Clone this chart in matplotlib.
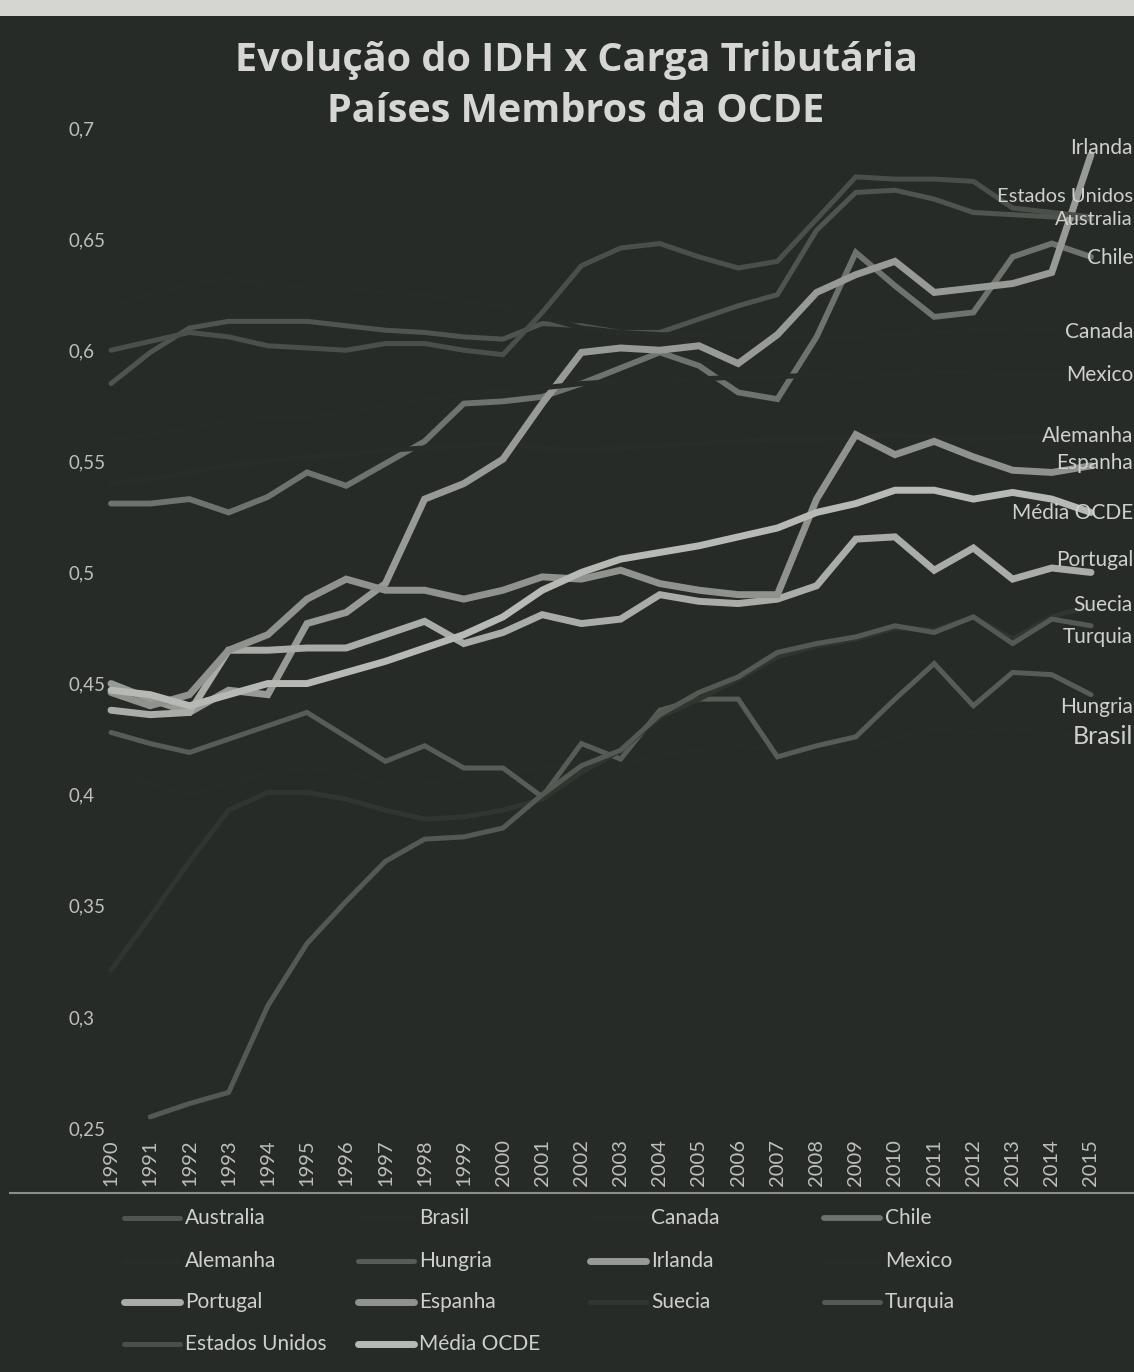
import numpy as np
import matplotlib.pyplot as plt
from matplotlib.lines import Line2D
from matplotlib.patches import Rectangle
from matplotlib.ticker import FuncFormatter
from matplotlib.transforms import blended_transform_factory

plt.rcParams['font.family'] = ['Lato', 'DejaVu Sans']

anos = list(range(1990, 2016))

australia = [0.585, 0.599, 0.610, 0.613, 0.613, 0.613, 0.611, 0.609, 0.608, 0.606, 0.605, 0.612, 0.611,
             0.608, 0.608, 0.614, 0.620, 0.625, 0.654, 0.671, 0.672, 0.668, 0.662, 0.661, 0.660, 0.659]
brasil = [0.410, 0.405, 0.400, 0.405, 0.410, 0.412, 0.410, 0.405, 0.405, 0.408, 0.410, 0.412, 0.415,
          0.413, 0.418, 0.420, 0.422, 0.420, 0.423, 0.420, 0.425, 0.430, 0.428, 0.430, 0.428, 0.426]
canada = [0.620, 0.625, 0.630, 0.632, 0.630, 0.628, 0.628, 0.626, 0.625, 0.622, 0.620, 0.615, 0.610,
          0.608, 0.607, 0.607, 0.606, 0.606, 0.605, 0.606, 0.607, 0.608, 0.609, 0.610, 0.609, 0.608]
chile = [0.531, 0.531, 0.533, 0.527, 0.534, 0.545, 0.539, 0.549, 0.559, 0.576, 0.577, 0.579, 0.585,
         0.592, 0.599, 0.593, 0.581, 0.578, 0.606, 0.644, 0.629, 0.615, 0.617, 0.642, 0.648, 0.642]
alemanha = [0.540, 0.542, 0.545, 0.548, 0.550, 0.552, 0.553, 0.555, 0.556, 0.557, 0.558, 0.556, 0.555,
            0.556, 0.557, 0.558, 0.559, 0.560, 0.560, 0.561, 0.562, 0.561, 0.560, 0.561, 0.561, 0.561]
hungria = [0.428, 0.423, 0.419, 0.425, 0.431, 0.437, 0.426, 0.415, 0.422, 0.412, 0.412, 0.399, 0.423,
           0.416, 0.438, 0.443, 0.443, 0.417, 0.422, 0.426, 0.443, 0.459, 0.440, 0.455, 0.454, 0.445]
irlanda = [0.450, 0.443, 0.437, 0.447, 0.445, 0.477, 0.482, 0.495, 0.533, 0.540, 0.551, 0.576, 0.599,
           0.601, 0.600, 0.602, 0.594, 0.607, 0.626, 0.634, 0.640, 0.626, 0.628, 0.630, 0.635, 0.688]
mexico = [0.560, 0.562, 0.565, 0.568, 0.570, 0.570, 0.572, 0.575, 0.578, 0.580, 0.582, 0.583, 0.585,
          0.586, 0.586, 0.587, 0.588, 0.588, 0.589, 0.588, 0.589, 0.590, 0.590, 0.589, 0.589, 0.589]
portugal = [0.438, 0.436, 0.437, 0.465, 0.465, 0.466, 0.466, 0.472, 0.478, 0.468, 0.473, 0.481, 0.477,
            0.479, 0.490, 0.487, 0.486, 0.488, 0.494, 0.515, 0.516, 0.501, 0.511, 0.497, 0.502, 0.500]
espanha = [0.446, 0.440, 0.445, 0.465, 0.472, 0.488, 0.497, 0.492, 0.492, 0.488, 0.492, 0.498, 0.497,
           0.501, 0.495, 0.492, 0.490, 0.490, 0.533, 0.562, 0.553, 0.559, 0.552, 0.546, 0.545, 0.548]
suecia = [0.321, 0.345, 0.370, 0.393, 0.401, 0.401, 0.398, 0.393, 0.389, 0.390, 0.393, 0.398, 0.410,
          0.420, 0.435, 0.443, 0.452, 0.462, 0.467, 0.470, 0.475, 0.474, 0.480, 0.470, 0.480, 0.485]
turquia = [np.nan, 0.255, 0.261, 0.266, 0.305, 0.333, 0.352, 0.370, 0.380, 0.381, 0.385, 0.400, 0.413,
           0.420, 0.436, 0.446, 0.453, 0.464, 0.468, 0.471, 0.476, 0.473, 0.480, 0.468, 0.479, 0.476]
estados_unidos = [0.600, 0.604, 0.608, 0.606, 0.602, 0.601, 0.600, 0.603, 0.603, 0.600, 0.598, 0.617, 0.638,
                  0.646, 0.648, 0.642, 0.637, 0.640, 0.659, 0.678, 0.677, 0.677, 0.676, 0.664, 0.662, 0.660]
media_ocde = [0.447, 0.445, 0.440, 0.445, 0.450, 0.450, 0.455, 0.460, 0.466, 0.472, 0.480, 0.492, 0.500,
              0.506, 0.509, 0.512, 0.516, 0.520, 0.527, 0.531, 0.537, 0.537, 0.533, 0.536, 0.533, 0.527]

fundo = '#272b27'
texto = '#cfd0cc'

# nome, valores, cor, espessura
series = [
    ("Australia", australia, '#4f544e', 3.6),
    ("Brasil", brasil, '#282c28', 3.6),
    ("Canada", canada, '#282c28', 3.6),
    ("Chile", chile, '#6f736d', 4.2),
    ("Alemanha", alemanha, '#292d29', 3.6),
    ("Hungria", hungria, '#575c56', 3.6),
    ("Irlanda", irlanda, '#979a95', 5.0),
    ("Mexico", mexico, '#282c28', 3.6),
    ("Portugal", portugal, '#a9aca7', 5.0),
    ("Espanha", espanha, '#8f928d', 5.0),
    ("Suecia", suecia, '#313530', 3.6),
    ("Turquia", turquia, '#545953', 3.6),
    ("Estados Unidos", estados_unidos, '#4a4f49', 3.6),
    ("Média OCDE", media_ocde, '#b7b9b4', 5.0),
]

# rótulos à direita: posição vertical (em valor do eixo) e tamanho
rotulos = {
    "Irlanda": (0.691, 15), "Estados Unidos": (0.6690, 14.5), "Australia": (0.6590, 14.5),
    "Chile": (0.6415, 15), "Canada": (0.6082, 15), "Mexico": (0.5888, 15),
    "Alemanha": (0.5614, 15), "Espanha": (0.5492, 15), "Média OCDE": (0.5267, 15),
    "Portugal": (0.5056, 15), "Suecia": (0.4853, 15), "Turquia": (0.4709, 15),
    "Hungria": (0.4394, 15), "Brasil": (0.4264, 18),
}

W, H = 1134, 1372
fig = plt.figure(figsize=(W / 100, H / 100), dpi=100)
fig.patch.set_facecolor(fundo)

# faixa clara do papel no topo
fig.add_artist(Rectangle((0, 1 - 16 / H), 1, 16 / H, transform=fig.transFigure,
                         facecolor='#d5d5d1', edgecolor='none'))

ax = fig.add_axes([92 / W, 1 - 1128 / H, (1110 - 92) / W, 1000 / H])
ax.set_facecolor('none')
ax.set_xlim(1989.515, 2015.485)
ax.set_ylim(0.25, 0.7)
for s in ax.spines.values():
    s.set_visible(False)

for nome, vals, cor, lw in series:
    ax.plot(anos, vals, color=cor, lw=lw, solid_joinstyle='miter', solid_capstyle='round')

ax.set_yticks(np.arange(0.25, 0.701, 0.05))
ax.yaxis.set_major_formatter(FuncFormatter(lambda v, p: f"{v:.2f}".rstrip('0').replace('.', ',')))
ax.tick_params(axis='y', length=0, pad=17, labelsize=13.5, labelcolor='#bebfbb')
for t in ax.get_yticklabels():
    t.set_horizontalalignment('left')

ax.set_xticks(anos)
ax.set_xticklabels([str(a) for a in anos], rotation=90)
ax.tick_params(axis='x', length=0, pad=8, labelsize=14.5, labelcolor='#bebfbb')

tr = blended_transform_factory(fig.transFigure, ax.transData)
for nome, (yv, fs) in rotulos.items():
    ax.text(1133 / W, yv, nome, transform=tr, ha='right', va='center',
            fontsize=fs, color=texto)

for linha, yp in (("Evolução do IDH x Carga Tributária", 60), ("Países Membros da OCDE", 111)):
    fig.text(576 / W, 1 - yp / H, linha, ha='center', va='center', fontsize=28.5,
             fontweight='bold', color='#d6d7d3', family=['Open Sans', 'DejaVu Sans'])

# linha separando o gráfico da legenda
fig.add_artist(Line2D([10 / W, 1], [1 - 1193 / H, 1 - 1193 / H], transform=fig.transFigure,
                      color='#8c8d89', lw=1.5))

# legenda em grade, na ordem das séries
col_x = [124, 358, 590, 824]
lin_y = [1218, 1261, 1302, 1344]
for i, (nome, vals, cor, lw) in enumerate(series):
    c, r = i % 4, i // 4
    x0 = col_x[c]
    y0 = 1 - lin_y[r] / H
    fig.add_artist(Line2D([x0 / W, (x0 + 56) / W], [y0, y0], transform=fig.transFigure,
                          color=cor, lw=lw, solid_capstyle='round'))
    fig.text((x0 + 61) / W, y0, nome, ha='left', va='center', fontsize=15, color=texto)

fig.savefig('out.png', dpi=100, facecolor=fig.get_facecolor())
